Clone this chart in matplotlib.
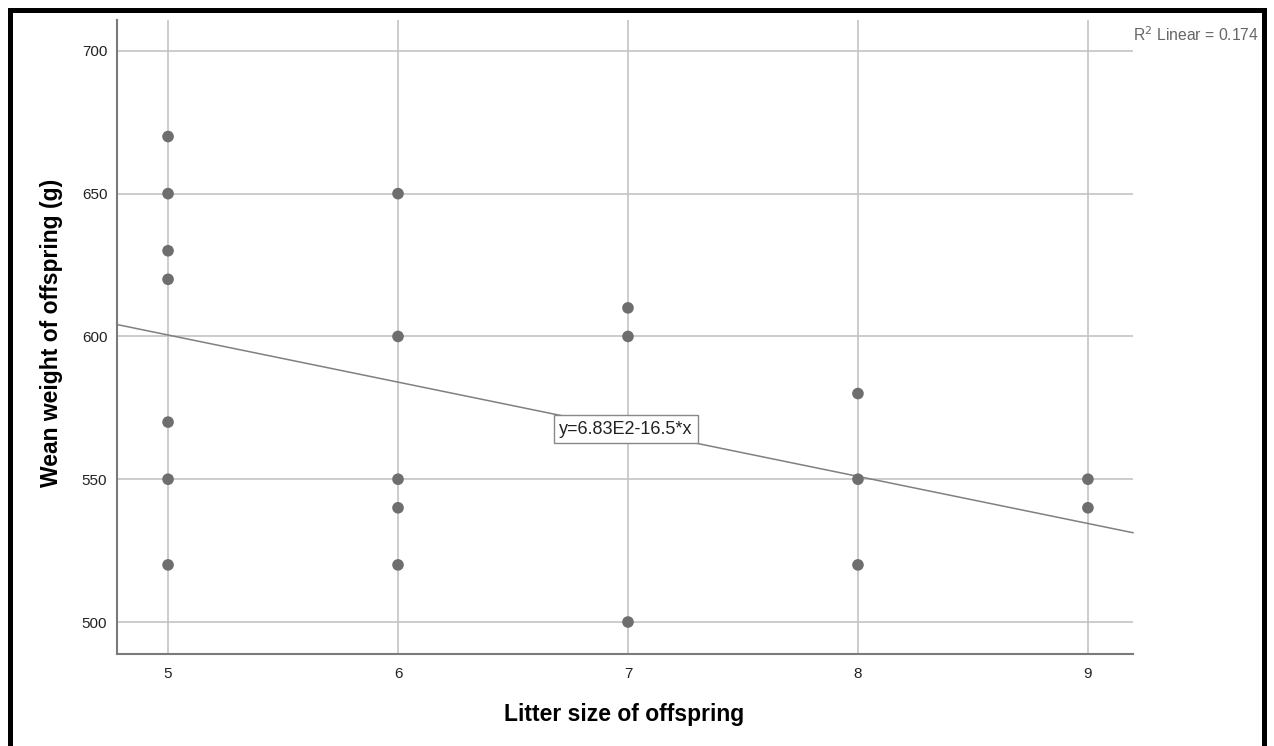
"""
Scatter of wean weight vs litter size with a linear fit (SPSS-style).
"""

import matplotlib

matplotlib.use("Agg")
import matplotlib.pyplot as plt
import numpy as np
from matplotlib.lines import Line2D

plt.rcParams["font.family"] = ["Liberation Sans", "DejaVu Sans"]

# data
litter_size = [5, 5, 5, 5, 5, 5, 5, 6, 6, 6, 6, 6, 7, 7, 7, 8, 8, 8, 9, 9]
wean_weight = [670, 650, 630, 620, 570, 550, 520,
               650, 600, 550, 540, 520,
               610, 600, 500,
               580, 550, 520,
               550, 540]
x_ticks = [5, 6, 7, 8, 9]
y_ticks = [500, 550, 600, 650, 700]
fit_intercept = 683.0
fit_slope = -16.5
r2_text = "R$^2$ Linear = 0.174"
fit_label = "y=6.83E2-16.5*x"

W, H = 1274, 746
fig = plt.figure(figsize=(W / 100, H / 100), dpi=100)
ax = fig.add_axes([117 / W, 1 - 654 / H, (1133 - 117) / W, (654 - 20) / H])

xlim = (4.778, 9.196)
ylim = (488.8, 710.8)
ax.set_xlim(*xlim)
ax.set_ylim(*ylim)

ax.set_xticks(x_ticks)
ax.set_yticks(y_ticks)
ax.tick_params(axis="both", length=0, labelsize=11, colors="#222222")
ax.tick_params(axis="y", pad=7)
ax.tick_params(axis="x", pad=9)
ax.grid(True, color="#c4c4c4", linewidth=1.2)
ax.set_axisbelow(True)

for side in ["top", "right"]:
    ax.spines[side].set_visible(False)
for side in ["left", "bottom"]:
    ax.spines[side].set_color("#7a7a7a")
    ax.spines[side].set_linewidth(1.5)

# fit line across the full x range
xs = np.array(xlim)
ax.plot(xs, fit_intercept + fit_slope * xs, color="#808080", linewidth=1.1,
        zorder=2, clip_on=False)

ax.scatter(litter_size, wean_weight, s=70, color="#6e6e6e", edgecolor="none",
           zorder=3)

ax.text(6.99, 567.5, fit_label, fontsize=13, color="#222222", ha="center",
        va="center", zorder=4,
        bbox=dict(boxstyle="square,pad=0.3", facecolor="white",
                  edgecolor="#888888", linewidth=1))

fig.text(1133 / W, 1 - 35 / H, r2_text, fontsize=11.3, color="#666666",
         ha="left", va="center")

ax.set_xlabel("Litter size of offspring", fontsize=16.5, fontweight="bold")
ax.set_ylabel("Wean weight of offspring (g)", fontsize=16.5, fontweight="bold")
ax.xaxis.label.set_va("center")
ax.yaxis.label.set_va("center")
ax.xaxis.set_label_coords((624 - 117) / 1016, (654 - 715) / 634)
ax.yaxis.set_label_coords((52 - 117) / 1016, (654 - 333) / 634)

# thick black frame (bottom edge is cut off)
lw = 5
for (x0, y0), (x1, y1) in [((10, 760), (10, 10)), ((10, 10), (1264, 10)),
                           ((1264, 10), (1264, 760))]:
    fig.add_artist(Line2D([x0 / W, x1 / W], [1 - y0 / H, 1 - y1 / H],
                          color="black", linewidth=lw * 0.72,
                          solid_capstyle="projecting"))

fig.savefig("out.png", dpi=100)
